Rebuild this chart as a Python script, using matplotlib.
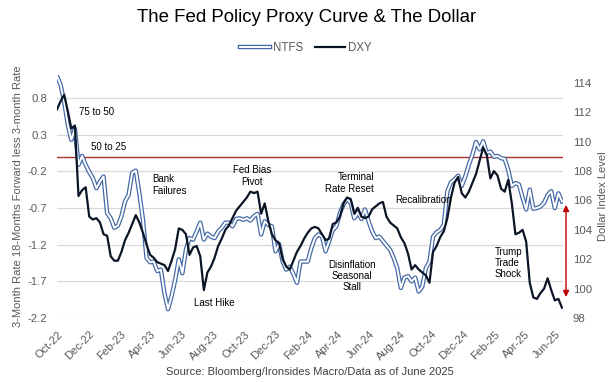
import matplotlib
matplotlib.use("Agg")
import matplotlib.pyplot as plt
import matplotlib.dates as mdates
from matplotlib.lines import Line2D
from matplotlib.legend_handler import HandlerTuple
import pandas as pd

plt.rcParams['font.family'] = ['Liberation Sans', 'DejaVu Sans']
plt.rcParams['axes.unicode_minus'] = False

# ---------------- data (weekly) ----------------
start_date = '2022-09-30'
ntfs = [1.10, 0.98, 0.75, 0.44, 0.23, 0.38, -0.11, 0.01, -0.11, -0.21,
        -0.29, -0.43, -0.34, -0.27, -0.77, -0.84, -0.97, -0.94, -0.81, -0.61,
        -0.52, -0.22, -0.19, -0.50, -0.86, -1.38, -1.44, -1.43, -1.56, -1.54,
        -1.86, -2.08, -1.90, -1.68, -1.40, -1.59, -1.27, -1.11, -1.13, -1.02,
        -0.90, -1.13, -1.05, -1.09, -1.11, -1.02, -0.97, -0.90, -0.90, -0.95,
        -0.85, -0.84, -0.86, -0.84, -0.87, -0.81, -0.78, -1.06, -0.88, -0.93,
        -0.95, -1.29, -1.19, -1.43, -1.54, -1.50, -1.60, -1.72, -1.43, -1.43,
        -1.43, -1.25, -1.11, -1.06, -1.09, -1.29, -1.15, -1.00, -0.95, -0.77,
        -0.65, -0.58, -0.63, -0.84, -0.76, -0.85, -0.72, -0.88, -1.02, -1.11,
        -1.09, -1.15, -1.21, -1.27, -1.38, -1.52, -1.79, -1.65, -1.63, -1.70,
        -1.65, -1.84, -1.77, -1.52, -1.43, -1.09, -1.03, -1.00, -0.93, -0.47,
        -0.35, -0.31, -0.26, -0.40, -0.27, -0.11, 0.03, 0.20, 0.10, 0.21,
        0.05, 0.07, 0.00, 0.01, -0.02, -0.03, -0.18, -0.40, -0.36, -0.38,
        -0.56, -0.72, -0.45, -0.71, -0.70, -0.68, -0.63, -0.52, -0.47, -0.70,
        -0.50, -0.61]
dxy = [112.2, 112.75, 113.2, 112.1, 110.9, 111.1, 106.3, 106.7, 106.9, 104.9,
       104.7, 104.8, 104.5, 103.7, 103.6, 102.2, 101.9, 101.9, 102.5, 103.3,
       103.8, 104.4, 105.0, 104.5, 103.8, 103.0, 102.3, 102.1, 101.8, 101.7,
       101.6, 101.2, 101.9, 102.7, 104.1, 104.0, 103.7, 102.3, 102.8, 102.9,
       102.2, 99.9, 101.1, 101.5, 102.1, 102.9, 103.4, 104.0, 104.3, 104.8,
       105.3, 105.6, 105.9, 106.2, 106.6, 106.5, 106.6, 105.1, 105.8, 104.6,
       103.7, 103.3, 103.1, 102.0, 101.5, 101.3, 101.9, 102.5, 102.9, 103.4,
       103.8, 104.1, 104.2, 104.1, 103.7, 103.3, 103.4, 104.4, 104.5, 104.9,
       105.8, 106.2, 106.1, 105.1, 105.5, 104.9, 104.8, 104.9, 105.4, 105.6,
       105.8, 105.9, 104.9, 104.5, 104.3, 104.1, 103.5, 103.1, 102.4, 101.3,
       101.6, 101.3, 101.1, 100.9, 100.4, 102.5, 102.9, 103.5, 103.9, 104.8,
       106.2, 107.2, 107.6, 106.5, 106.2, 106.6, 107.2, 107.8, 108.7, 109.6,
       109.1, 107.5, 108.0, 107.7, 106.8, 106.6, 107.4, 105.8, 103.7, 103.8,
       104.0, 103.2, 100.4, 99.4, 99.3, 99.7, 100.0, 100.7, 99.9, 99.2,
       99.3, 98.7]
dates = pd.date_range(start_date, periods=len(ntfs), freq='7D')

left_ticks = [-2.2, -1.7, -1.2, -0.7, -0.2, 0.3, 0.8]
right_ticks = [98, 100, 102, 104, 106, 108, 110, 112, 114]
ref_level = 0.0

annotations = [
    ("75 to 50", 97, 112, 'center'),
    ("50 to 25", 109, 147, 'center'),
    ("Bank\nFailures", 152, 185, 'left'),
    ("Fed Bias\nPivot", 252, 176, 'center'),
    ("Terminal\nRate Reset", 374, 183, 'right'),
    ("Recalibration", 424, 200, 'center'),
    ("Last Hike", 214, 303, 'center'),
    ("Disinflation\nSeasonal\nStall", 352, 276, 'center'),
    ("Trump\nTrade\nShock", 495, 263, 'left'),
]

# ---------------- figure ----------------
W, H = 613, 382
fig = plt.figure(figsize=(W / 100, H / 100), dpi=100)
ax = fig.add_axes([57 / W, 64 / H, 506 / W, 243 / H])
ax2 = ax.twinx()

def fx(x):
    return x / W

def fy(y):
    return 1 - y / H

blue = '#4469A6'
black = '#0B1526'
gray = '#595959'
outer_w, inner_w = 3.2, 1.4

ax.plot(dates, ntfs, color=blue, lw=outer_w, zorder=2)
ax.plot(dates, ntfs, color='white', lw=inner_w, zorder=3)
ax.axhline(ref_level, color='#A8322D', lw=1.0, zorder=1.5)
ax2.plot(dates, dxy, color=black, lw=1.6)

ax.set_ylim(-2.2, 1.114)
ax2.set_ylim(98, 114.54)
ax.set_xlim(dates[0], dates[-1] + pd.Timedelta(days=2))
ax.set_yticks(left_ticks)
ax.set_yticklabels([f"{t:.1f}" for t in left_ticks])
ax2.set_yticks(right_ticks)
ax2.set_yticklabels([str(t) for t in right_ticks])

ax.yaxis.grid(True, color='#D9D9D9', lw=0.9)
ax.set_axisbelow(True)
for a in (ax, ax2):
    for s in a.spines.values():
        s.set_visible(False)

ax.xaxis.set_major_locator(mdates.MonthLocator(bymonth=[2, 4, 6, 8, 10, 12]))
ax.xaxis.set_major_formatter(mdates.DateFormatter('%b-%y'))
ax.tick_params(axis='x', length=0, pad=8, labelsize=8, labelcolor=gray)
for lab in ax.get_xticklabels():
    lab.set_rotation(45)
    lab.set_ha('right')
    lab.set_rotation_mode('anchor')
ax.tick_params(axis='y', length=0, pad=7, labelsize=8.2, labelcolor=gray)
ax2.tick_params(axis='y', length=0, pad=7, labelsize=8.2, labelcolor=gray)

# arrow on right edge
ax2.annotate('', xy=(1.006, 99.43), xytext=(1.006, 105.7),
             xycoords=('axes fraction', 'data'), textcoords=('axes fraction', 'data'),
             arrowprops=dict(arrowstyle='<|-|>', color='#C00000', lw=1.0,
                             mutation_scale=9, shrinkA=0, shrinkB=0))

for txt, x, y, ha in annotations:
    fig.text(fx(x), fy(y), txt, ha=ha, va='center', fontsize=7, color='black',
             multialignment=ha, linespacing=1.15)

fig.text(0.5, fy(17), "The Fed Policy Proxy Curve & The Dollar", ha='center',
         va='center', fontsize=13.4, color='black')
fig.text(fx(310), fy(372), "Source: Bloomberg/Ironsides Macro/Data as of June 2025",
         ha='center', va='center', fontsize=8, color='#404040')
fig.text(fx(18), fy(196), "3-Month Rate 18-Months Forward less 3-month Rate",
         rotation=90, ha='center', va='center', fontsize=8, color=gray)
fig.text(fx(603), fy(196), "Dollar Index Level", rotation=90, ha='center',
         va='center', fontsize=8, color=gray)

h_ntfs = (Line2D([], [], color=blue, lw=outer_w), Line2D([], [], color='white', lw=inner_w))
h_dxy = Line2D([], [], color=black, lw=1.6)
fig.legend([h_ntfs, h_dxy], ['NTFS', 'DXY'],
           handler_map={tuple: HandlerTuple(ndivide=1, pad=0)},
           loc='center', bbox_to_anchor=(fx(306), fy(48)), ncol=2, frameon=False,
           fontsize=8.3, handlelength=2.6, columnspacing=1.0, handletextpad=0.3,
           labelcolor=gray)

fig.savefig('out.png', dpi=100)
